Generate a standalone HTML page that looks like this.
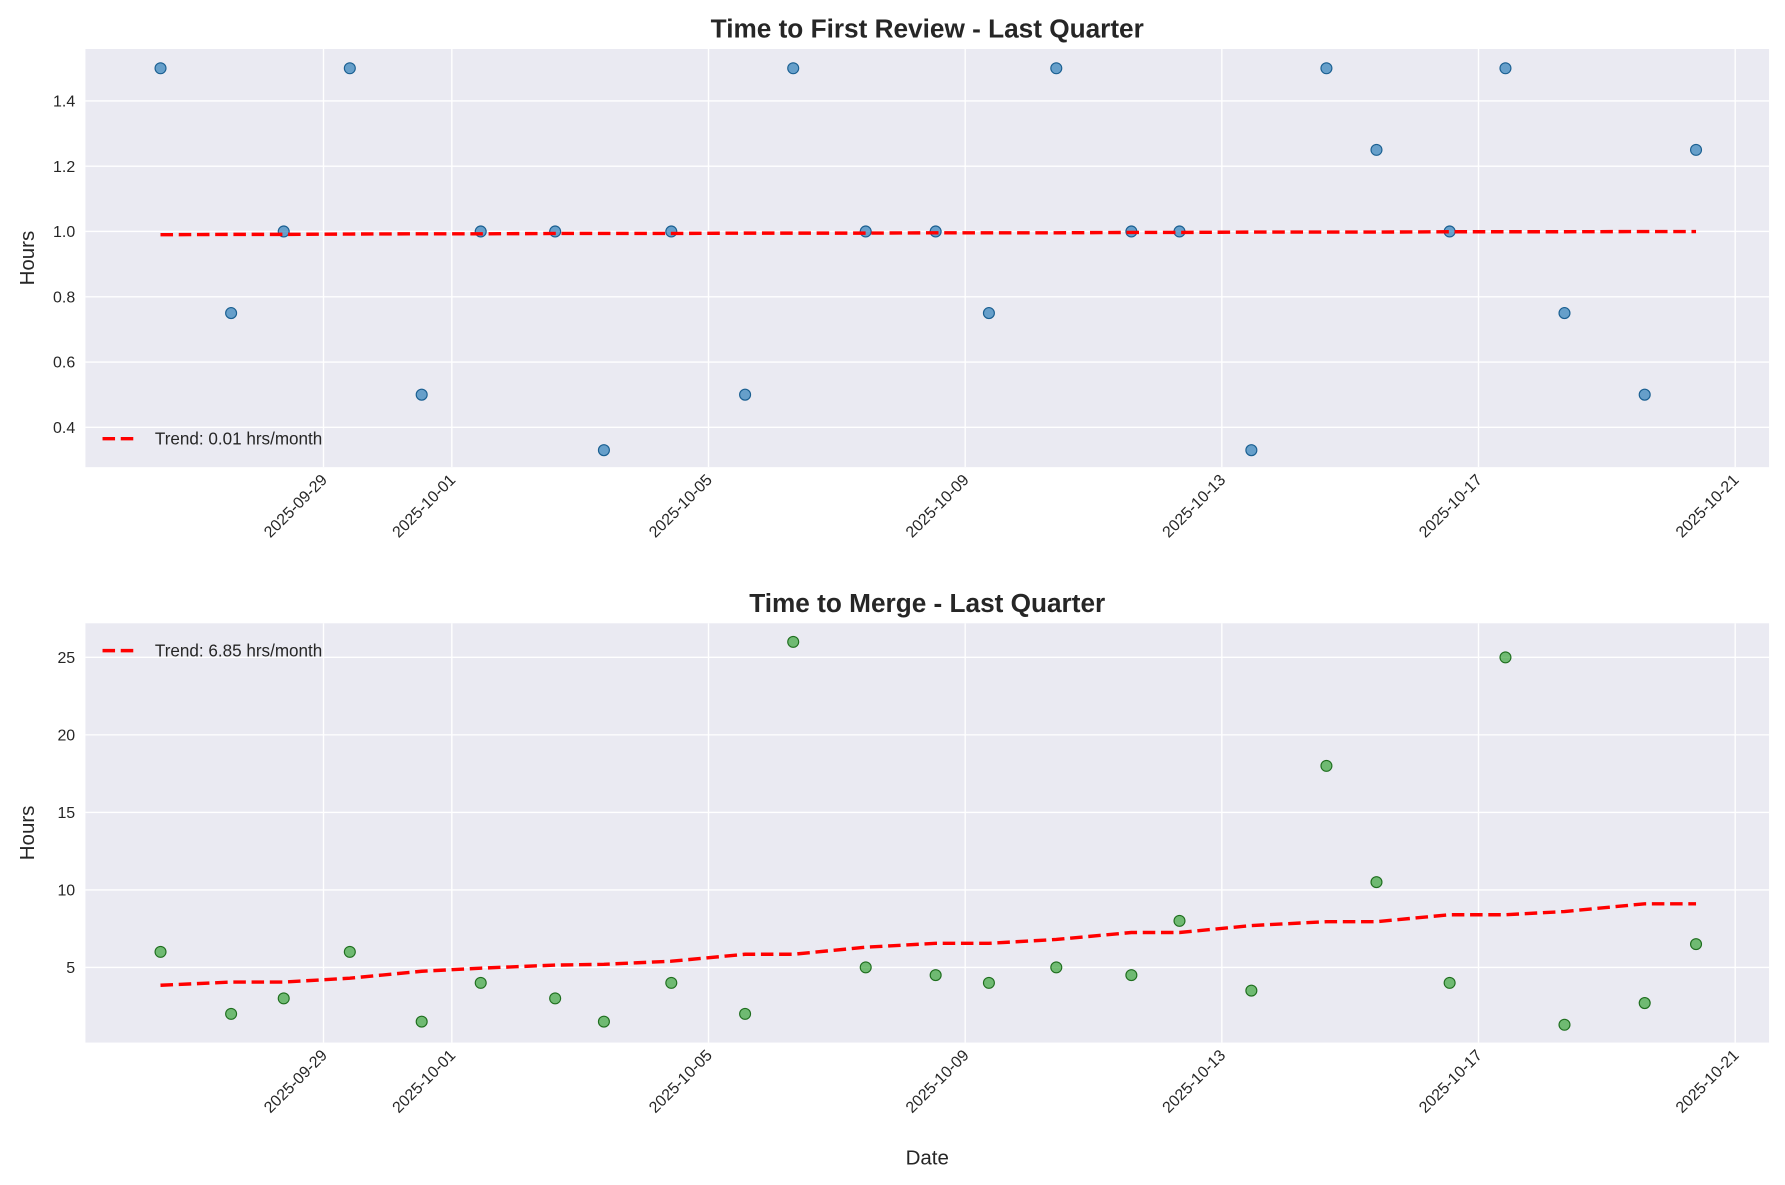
<!DOCTYPE html>
<html><head><meta charset="utf-8"><style>
body{margin:0;background:#fff;}
svg{display:block;font-family:"Liberation Sans","DejaVu Sans",sans-serif;}
</style></head><body>
<svg id="chart" width="1785" height="1185" viewBox="0 0 1567 1040" preserveAspectRatio="none" xmlns="http://www.w3.org/2000/svg"></svg>
<script>
// days offset relative to 2025-09-29 00:00
const dayOffsets=[-2.54,-1.44,-0.62,0.41,1.53,2.45,3.61,4.37,5.42,6.57,7.32,8.45,9.54,10.37,11.42,12.59,13.34,14.46,15.63,16.41,17.55,18.42,19.34,20.59,21.39];
const reviewHours=[1.5,0.75,1.0,1.5,0.5,1.0,1.0,0.33,1.0,0.5,1.5,1.0,1.0,0.75,1.5,1.0,1.0,0.33,1.5,1.25,1.0,1.5,0.75,0.5,1.25];
const reviewTrend=[0.99,0.991,0.991,0.992,0.993,0.993,0.994,0.994,0.994,0.995,0.995,0.995,0.996,0.996,0.996,0.997,0.997,0.998,0.998,0.998,0.999,0.999,0.999,1.0,1.0];
const mergeHours=[6,2,3,6,1.5,4,3,1.5,4,2,26,5,4.5,4,5,4.5,8,3.5,18,10.5,4,25,1.3,2.7,6.5];
const mergeTrend=[3.85,4.05,4.05,4.3,4.75,4.95,5.15,5.2,5.4,5.85,5.85,6.3,6.55,6.55,6.8,7.25,7.25,7.7,7.95,7.95,8.4,8.4,8.6,9.1,9.1];
const xTickDays=[0,2,6,10,14,18,22];
const xTickLabels=["2025-09-29","2025-10-01","2025-10-05","2025-10-09","2025-10-13","2025-10-17","2025-10-21"];
const reviewYTicks=[0.4,0.6,0.8,1.0,1.2,1.4];
const mergeYTicks=[5,10,15,20,25];

const NS="http://www.w3.org/2000/svg";
const svg=document.getElementById('chart');
function mk(tag,attrs,parent){const e=document.createElementNS(NS,tag);for(const k in attrs)e.setAttribute(k,attrs[k]);(parent||svg).appendChild(e);return e;}
const L=75,R=1553;
function xs(d){return 284+d*56.33;}

function panel(cfg){
  const g=mk('g',{});
  
  
  const ys=v=>cfg.top+(cfg.ymax-v)/(cfg.ymax-cfg.ymin)*(cfg.bot-cfg.top);
  const bg=mk('rect',{x:L,y:cfg.top,width:R-L,height:cfg.bot-cfg.top,fill:'#eaeaf2'},g);
  
  
  xTickDays.forEach((d,i)=>{
    const x=xs(d);
    mk('line',{x1:x,x2:x,y1:cfg.top,y2:cfg.bot,stroke:'#fff','stroke-width':1.2},g);
    const t=mk('text',{x:x+4,y:cfg.bot+12,'font-size':14,fill:'#262626','text-anchor':'end',transform:`rotate(-45 ${x+4} ${cfg.bot+12})`},g);
    t.textContent=xTickLabels[i];
    
    
  });
  cfg.yticks.forEach(v=>{
    const y=ys(v);
    mk('line',{x1:L,x2:R,y1:y,y2:y,stroke:'#fff','stroke-width':1.2},g);
    const t=mk('text',{x:66,y:y+5,'font-size':14,fill:'#262626','text-anchor':'end'},g);
    t.textContent=cfg.fmt(v);
    
    
  });
  cfg.vals.forEach((v,i)=>{
    const c=mk('circle',{cx:xs(dayOffsets[i]),cy:ys(v),r:4.8,fill:cfg.color,'fill-opacity':0.65,stroke:cfg.edge,'stroke-width':1},g);
    
    
  });
  const pts=cfg.trend.map((v,i)=>xs(dayOffsets[i]).toFixed(1)+','+ys(v).toFixed(1)).join(' ');
  const tl=mk('polyline',{points:pts,fill:'none',stroke:'#ff0000','stroke-width':3,'stroke-dasharray':'11,5'},g);
  
  
  const tt=mk('text',{x:(L+R)/2,y:cfg.top-10,'font-size':23,'font-weight':'bold',fill:'#262626','text-anchor':'middle'},g);
  tt.textContent=cfg.title;
  
  
  const yl=mk('text',{x:0,y:0,'font-size':18,fill:'#262626','text-anchor':'middle',transform:`translate(30 ${(cfg.top+cfg.bot)/2}) rotate(-90)`},g);
  yl.textContent='Hours';
  
  
  const lg=mk('g',{},g);
  
  
  mk('line',{x1:90,x2:122,y1:cfg.legY,y2:cfg.legY,stroke:'#ff0000','stroke-width':3,'stroke-dasharray':'11,5'},lg);
  const lt=mk('text',{x:136,y:cfg.legY+5,'font-size':15,fill:'#262626'},lg);
  lt.textContent=cfg.legend;
}
panel({name:'first-review-panel',top:43,bot:410,ymin:0.278,ymax:1.559,yticks:reviewYTicks,fmt:v=>v.toFixed(1),vals:reviewHours,trend:reviewTrend,color:'#1f77b4',edge:'#1a5f91',title:'Time to First Review - Last Quarter',legend:'Trend: 0.01 hrs/month',legY:385});
panel({name:'merge-panel',top:547,bot:915,ymin:0.15,ymax:27.2,yticks:mergeYTicks,fmt:v=>String(v),vals:mergeHours,trend:mergeTrend,color:'#2ca02c',edge:'#1e6e1e',title:'Time to Merge - Last Quarter',legend:'Trend: 6.85 hrs/month',legY:571});
const xl=mk('text',{x:814,y:1022,'font-size':18,fill:'#262626','text-anchor':'middle'});
xl.textContent='Date';


</script>
</body></html>
